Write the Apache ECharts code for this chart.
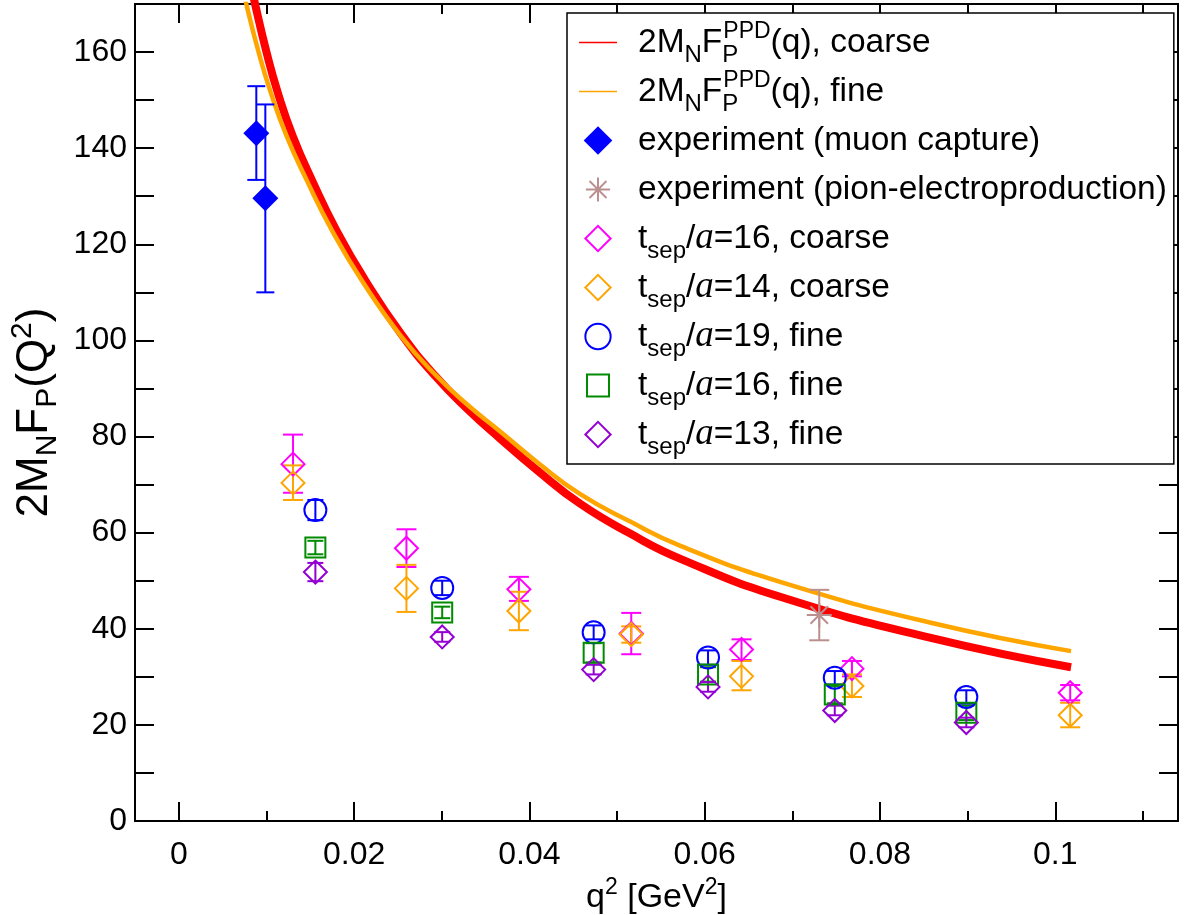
<!DOCTYPE html>
<html>
<head>
<meta charset="UTF-8">
<title>2MN FP(Q2)</title>
<script src="https://cdn.jsdelivr.net/npm/echarts@6/dist/echarts.min.js"></script>
<style>
  html, body { margin: 0; padding: 0; background: #ffffff; }
  #chart { width: 1189px; height: 915px; }
</style>
</head>
<body>
<div id="chart"></div>
<script>
// PPD curves: [q2, 2MN*FP]
var curveCoarse = [
  [0.0080, 176.0], [0.0087, 170.0], [0.0100, 160.0], [0.0113, 151.5], [0.0130, 142.5],
  [0.0152, 133.3], [0.0180, 122.8], [0.0213, 112.4], [0.0253, 101.5], [0.0293, 92.5],
  [0.0330, 85.6], [0.0367, 79.5], [0.0410, 72.8], [0.0458, 66.0], [0.0515, 59.8],
  [0.0573, 54.5], [0.0687, 46.6], [0.0858, 38.1], [0.1018, 32.0]
];
var curveFine = [
  [0.0070, 176.0], [0.0077, 170.0], [0.0091, 160.0], [0.0105, 151.5], [0.0123, 142.5],
  [0.0146, 133.3], [0.0175, 122.8], [0.0209, 112.4], [0.0253, 101.0], [0.0293, 92.8],
  [0.0330, 86.5], [0.0367, 81.0], [0.0410, 74.5], [0.0458, 68.0], [0.0515, 62.3],
  [0.0573, 57.2], [0.0687, 49.7], [0.0858, 41.25], [0.1018, 35.35]
];

// points: [q2, value, low, high]
var muonCapture = [
  [0.00884, 143.1, 133.4, 152.9],
  [0.00987, 129.6, 110.0, 149.1]
];
var pionElectro = [
  [0.07307, 42.85, 37.6, 48.1]
];
var tsep16Coarse = [
  [0.01303, 74.25, 68.3, 80.4],
  [0.02597, 56.75, 52.85, 60.7],
  [0.0388, 48.2, 45.8, 50.8],
  [0.05162, 39.0, 34.7, 43.3],
  [0.0642, 35.7, 33.5, 37.8],
  [0.0768, 31.7, 30.1, 33.3],
  [0.1017, 26.7, 25.1, 28.3]
];
var tsep14Coarse = [
  [0.01303, 70.35, 66.8, 74.0],
  [0.02597, 48.4, 43.5, 53.3],
  [0.0388, 43.7, 39.7, 47.7],
  [0.05162, 38.8, 37.1, 40.5],
  [0.0642, 30.1, 27.2, 33.3],
  [0.0768, 28.1, 25.8, 30.5],
  [0.1017, 22.0, 19.5, 24.6]
];
var tsep19Fine = [
  [0.01558, 64.7, 62.6, 66.8],
  [0.03005, 48.5, 47.0, 50.0],
  [0.04733, 39.25, 37.8, 40.7],
  [0.06038, 34.0, 32.5, 35.5],
  [0.07484, 29.8, 28.4, 31.2],
  [0.08985, 25.8, 24.4, 27.2]
];
var tsep16Fine = [
  [0.01558, 56.9, 55.5, 58.3],
  [0.03005, 43.4, 42.2, 44.6],
  [0.04733, 35.0, 33.0, 37.0],
  [0.06038, 30.5, 29.0, 32.0],
  [0.07484, 26.3, 24.5, 28.1],
  [0.08985, 22.5, 21.0, 24.0]
];
var tsep13Fine = [
  [0.01558, 51.8, 49.9, 53.7],
  [0.03005, 38.3, 37.3, 39.3],
  [0.04733, 31.5, 30.5, 32.5],
  [0.06038, 27.9, 26.9, 28.9],
  [0.07484, 23.0, 22.0, 24.0],
  [0.08985, 20.5, 19.5, 21.5]
];

var xMajorTicks = [0, 0.02, 0.04, 0.06, 0.08, 0.1];
var xMinorTicks = [0.01, 0.03, 0.05, 0.07, 0.09, 0.11];

var FONT = 'Liberation Sans';
var asterisk = 'path://M46,0H54V100H46Z M0,46H100V54H0Z M12.2,17.8L17.8,12.2L87.8,82.2L82.2,87.8Z M82.2,12.2L87.8,17.8L17.8,87.8L12.2,82.2Z';

// legend icons drawn in a 38x30 box (the two lone moves fix the box)
var BOX = 'path://M0,0 M38,30 ';
var iconDiamondBig = BOX + 'M19,0.7L33.3,15L19,29.3L4.7,15Z';
var iconDiamond = BOX + 'M19,2.35L31.65,15L19,27.65L6.35,15Z';
var iconCircle = BOX + 'M6.35,15A12.65,12.65 0 1 1 31.65,15A12.65,12.65 0 1 1 6.35,15Z';
var iconSquare = BOX + 'M8,4H30V26H8Z';
var iconStar = BOX + 'M18,2.9H20V27.1H18Z M6.9,14H31.1V16H6.9Z ' +
  'M9.87,7.19L11.19,5.87L28.13,22.81L26.81,24.13Z M26.81,5.87L28.13,7.19L11.19,24.13L9.87,22.81Z';

var legendText = {
  coarse: '{sp| }2M{sub|N}F{subp|P}{sup|PPD}(q), coarse',
  fine: '{sp| }2M{sub|N}F{subp|P}{sup|PPD}(q), fine',
  muon: '{sp| }experiment (muon capture)',
  pion: '{sp| }experiment (pion-electroproduction)',
  t16c: '{sp| }t{sub|sep}/{it|a}=16, coarse',
  t14c: '{sp| }t{sub|sep}/{it|a}=14, coarse',
  t19f: '{sp| }t{sub|sep}/{it|a}=19, fine',
  t16f: '{sp| }t{sub|sep}/{it|a}=16, fine',
  t13f: '{sp| }t{sub|sep}/{it|a}=13, fine'
};

function pts(arr) {
  return arr.map(function (d) { return [d[0], d[1]]; });
}

function errorBars(capHalf) {
  return function (params, api) {
    var x = api.value(0);
    var lo = api.coord([x, api.value(2)]);
    var hi = api.coord([x, api.value(3)]);
    var c = api.visual('color');
    function ln(x1, y1, x2, y2) {
      return { type: 'line', shape: { x1: x1, y1: y1, x2: x2, y2: y2 },
               style: { stroke: c, lineWidth: 2 } };
    }
    return { type: 'group', children: [
      ln(lo[0], lo[1], hi[0], hi[1]),
      ln(lo[0] - capHalf, lo[1], lo[0] + capHalf, lo[1]),
      ln(hi[0] - capHalf, hi[1], hi[0] + capHalf, hi[1])
    ]};
  };
}

function errSeries(data, color, capHalf) {
  return {
    type: 'custom', name: 'err', data: data, z: 3,
    encode: { x: 0, y: 1 },
    itemStyle: { color: color },
    renderItem: errorBars(capHalf),
    silent: true
  };
}

function hollow(name, data, symbol, size, color) {
  return {
    type: 'scatter', name: name, data: pts(data), symbol: symbol, symbolSize: size, z: 4,
    itemStyle: { color: 'rgba(0,0,0,0)', borderColor: color, borderWidth: 2, opacity: 1 }
  };
}

function hollowIcon(name, icon, color) {
  return { name: name, icon: icon,
           itemStyle: { color: 'rgba(0,0,0,0)', borderColor: color, borderWidth: 2, opacity: 1 } };
}

var chart = echarts.init(document.getElementById('chart'));

var tickLabel = { fontFamily: FONT, fontSize: 32, color: '#000' };
var frame = { show: true, onZero: false, lineStyle: { color: '#000', width: 2 } };
var noLegendSymbol = { color: 'rgba(0,0,0,0)', borderWidth: 0, opacity: 0 };

var option = {
  animation: false,
  backgroundColor: '#ffffff',
  textStyle: { fontFamily: FONT, color: '#000' },
  grid: { left: 135, top: 4, right: 11, bottom: 94, containLabel: false, outerBoundsMode: 'none' },
  xAxis: [
    {
      type: 'value', position: 'bottom', min: -0.005, max: 0.114,
      axisLine: frame, splitLine: { show: false },
      axisTick: { inside: true, length: 19, lineStyle: { color: '#000', width: 2 }, customValues: xMajorTicks },
      axisLabel: Object.assign({ margin: 18, customValues: xMajorTicks,
        formatter: function (v) { return String(+v.toFixed(3)); } }, tickLabel),
      name: 'q{sup|2} [GeV{sup|2}]', nameLocation: 'middle', nameGap: 40,
      nameTextStyle: {
        fontFamily: FONT, fontSize: 34, color: '#000', lineHeight: 42,
        rich: { sup: { fontFamily: FONT, fontSize: 23, lineHeight: 23, padding: [0, 0, 21, 0], color: '#000' } }
      }
    },
    {
      type: 'value', position: 'bottom', min: -0.005, max: 0.114,
      axisLine: frame, splitLine: { show: false }, axisLabel: { show: false },
      axisTick: { inside: true, length: 10, lineStyle: { color: '#000', width: 2 }, customValues: xMinorTicks }
    },
    {
      type: 'value', position: 'top', min: -0.005, max: 0.114,
      axisLine: frame, splitLine: { show: false }, axisLabel: { show: false },
      axisTick: { inside: true, length: 19, lineStyle: { color: '#000', width: 2 }, customValues: xMajorTicks }
    },
    {
      type: 'value', position: 'top', min: -0.005, max: 0.114,
      axisLine: frame, splitLine: { show: false }, axisLabel: { show: false },
      axisTick: { inside: true, length: 10, lineStyle: { color: '#000', width: 2 }, customValues: xMinorTicks }
    }
  ],
  yAxis: [
    {
      type: 'value', position: 'left', min: 0, max: 170, interval: 10,
      axisLine: frame, splitLine: { show: false },
      axisTick: { inside: true, length: 19, lineStyle: { color: '#000', width: 2 } },
      axisLabel: Object.assign({ margin: 8, showMaxLabel: false,
        formatter: function (v) { return v % 20 === 0 ? String(v) : ''; } }, tickLabel),
      name: '2M{sub|N}F{sub|P}(Q{sup|2})', nameLocation: 'middle', nameGap: 72,
      nameTextStyle: {
        fontFamily: FONT, fontSize: 44, color: '#000', lineHeight: 52,
        rich: {
          sub: { fontFamily: FONT, fontSize: 30, lineHeight: 30, padding: [26, 0, 0, 0], color: '#000' },
          sup: { fontFamily: FONT, fontSize: 30, lineHeight: 30, padding: [0, 0, 24, 0], color: '#000' }
        }
      }
    },
    {
      type: 'value', position: 'right', min: 0, max: 170, interval: 10,
      axisLine: frame, splitLine: { show: false }, axisLabel: { show: false },
      axisTick: { inside: true, length: 19, lineStyle: { color: '#000', width: 2 } }
    }
  ],
  legend: {
    orient: 'vertical', left: 567, top: 13,
    padding: [5, 7, 5, 11], itemGap: 0,
    itemWidth: 38, itemHeight: 30,
    borderColor: '#000', borderWidth: 1.5, backgroundColor: '#fff',
    selectedMode: false,
    data: [
      { name: 'coarse', lineStyle: { width: 1.5 }, itemStyle: noLegendSymbol },
      { name: 'fine', lineStyle: { width: 1.5 }, itemStyle: noLegendSymbol },
      { name: 'muon', icon: iconDiamondBig, itemStyle: { color: '#0000ff', opacity: 1, borderWidth: 0 } },
      { name: 'pion', icon: iconStar, itemStyle: { color: '#bc8f8f', opacity: 1, borderWidth: 0 } },
      hollowIcon('t16c', iconDiamond, '#ff00ff'),
      hollowIcon('t14c', iconDiamond, '#ffa500'),
      hollowIcon('t19f', iconCircle, '#0000ff'),
      hollowIcon('t16f', iconSquare, '#008b00'),
      hollowIcon('t13f', iconDiamond, '#9400d3')
    ],
    formatter: function (name) { return legendText[name]; },
    textStyle: {
      fontFamily: FONT, fontSize: 33.5, color: '#000', lineHeight: 49,
      rich: {
        sp: { width: 16, fontSize: 12 },
        sub: { fontFamily: FONT, fontSize: 24, lineHeight: 24, padding: [25, 0, 0, 0], color: '#000' },
        subp: { fontFamily: FONT, fontSize: 24, lineHeight: 24, padding: [25, 0, 0, 0], width: 1, color: '#000' },
        sup: { fontFamily: FONT, fontSize: 23, lineHeight: 23, padding: [0, 0, 21, 0], color: '#000' },
        it: { fontFamily: 'Liberation Serif', fontStyle: 'italic', fontSize: 37, color: '#000' }
      }
    }
  },
  series: [
    {
      type: 'line', name: 'coarse', data: curveCoarse, smooth: true, showSymbol: false, symbol: 'none',
      clip: true, z: 2, itemStyle: { color: '#ff0000' }, lineStyle: { color: '#ff0000', width: 8 }
    },
    {
      type: 'line', name: 'fine', data: curveFine, smooth: true, showSymbol: false, symbol: 'none',
      clip: true, z: 2, itemStyle: { color: '#ffa500' }, lineStyle: { color: '#ffa500', width: 4.5 }
    },
    {
      type: 'scatter', name: 'muon', data: pts(muonCapture), symbol: 'diamond', symbolSize: 26, z: 4,
      itemStyle: { color: '#0000ff', opacity: 1 }
    },
    {
      type: 'scatter', name: 'pion', data: pts(pionElectro), symbol: asterisk, symbolSize: 25, z: 4,
      itemStyle: { color: '#bc8f8f', opacity: 1 }
    },
    hollow('t16c', tsep16Coarse, 'diamond', 23, '#ff00ff'),
    hollow('t14c', tsep14Coarse, 'diamond', 23, '#ffa500'),
    hollow('t19f', tsep19Fine, 'circle', 22, '#0000ff'),
    hollow('t16f', tsep16Fine, 'rect', 20, '#008b00'),
    hollow('t13f', tsep13Fine, 'diamond', 23, '#9400d3'),
    errSeries(muonCapture, '#0000ff', 9),
    errSeries(pionElectro, '#bc8f8f', 10),
    errSeries(tsep16Coarse, '#ff00ff', 10),
    errSeries(tsep14Coarse, '#ffa500', 10),
    errSeries(tsep19Fine, '#0000ff', 8),
    errSeries(tsep16Fine, '#008b00', 8),
    errSeries(tsep13Fine, '#9400d3', 8)
  ]
};

chart.setOption(option);
</script>
</body>
</html>
